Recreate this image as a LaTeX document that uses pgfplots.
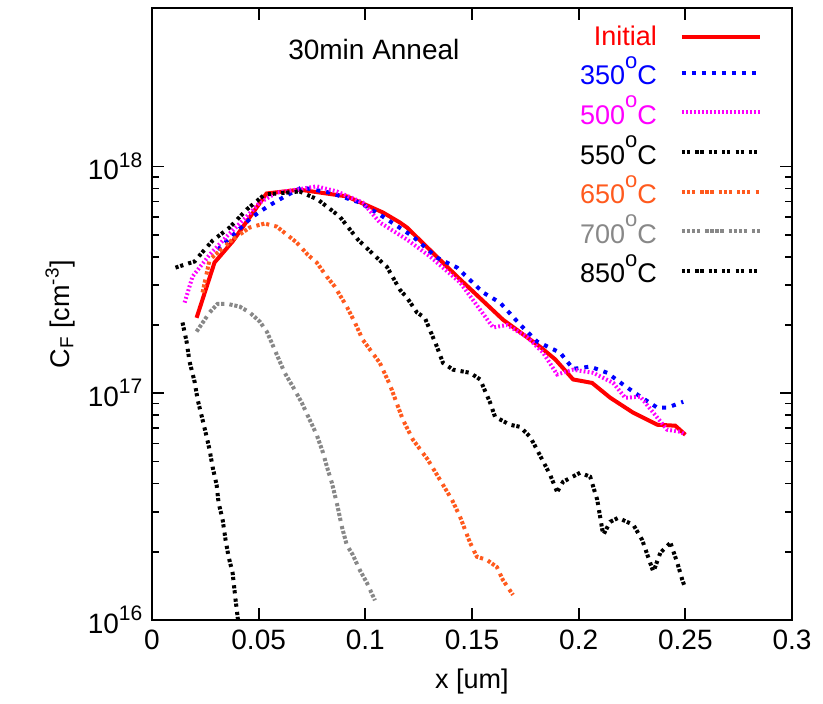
\documentclass[border=0pt]{standalone}
\usepackage{fontspec}
\setmainfont{Liberation Sans}
\usepackage{pgfplots}
\pgfplotsset{compat=1.18}
\definecolor{cOrange}{RGB}{255,90,30}
\definecolor{cGray}{RGB}{136,136,136}
\definecolor{cMag}{RGB}{255,0,255}
\definecolor{cBlue}{RGB}{0,0,255}
\definecolor{cRed}{RGB}{255,0,0}
\newcommand{\dg}{\raisebox{8.3pt}{\fontsize{11}{11}\selectfont o}}
\newcommand{\ex}[1]{\raisebox{6.3pt}{\fontsize{10.5}{10.5}\selectfont #1}}
\begin{document}
\fontsize{14}{16}\selectfont
\begin{tikzpicture}
\begin{axis}[
  scale only axis,
  width=320pt, height=306pt,
  ymode=log,
  xmin=0, xmax=0.3, ymin=1e16, ymax=5e18,
  xtick={0,0.05,0.1,0.15,0.2,0.25,0.3},
  xticklabels={0,0.05,0.1,0.15,0.2,0.25,0.3},
  ytick={1e16,1e17,1e18},
  yticklabels={10\ex{16},10\ex{17},10\ex{18}},
  tick align=inside,
  major tick length=6pt, minor tick length=3.5pt,
  axis line style={line width=1pt},
  every tick/.style={line width=0.9pt, black},
  tick label style={font=\fontsize{14}{16}\selectfont},
  xlabel={x [um]},
  ylabel={C\textsubscript{F} [cm\textsuperscript{-3}]},
  ylabel shift=-3pt,
  label style={font=\fontsize{13.5}{16}\selectfont},
  legend plot pos=right,
  legend cell align=right,
  legend style={draw=none, fill=none, at={(0.963,0.985)}, anchor=north east,
    font=\fontsize{13.5}{14}\selectfont, row sep=-0.5pt},
  legend image code/.code={\path (0pt,0pt); \draw[#1] (9.5pt,0pt) -- (48.5pt,0pt);},
]
\addplot[cRed, line width=2pt] coordinates {
(0.0209,2.15e17) (0.0293,3.77e17) (0.0378,4.67e17) (0.0537,7.6e17) (0.0692,7.9e17)
(0.0913,7.38e17) (0.1082,6.27e17) (0.1162,5.66e17) (0.1195,5.38e17) (0.143,3.27e17)
(0.1645,2.11e17) (0.182,1.6e17) (0.189,1.41e17) (0.1974,1.15e17) (0.2063,1.11e17)
(0.2148,9.55e16) (0.2256,8.2e16) (0.2369,7.26e16) (0.2453,7.19e16) (0.25,6.56e16)};
\addlegendentry{\textcolor{cRed}{Initial}}
\addplot[cBlue, line width=2pt, dash pattern=on 2pt off 3pt] coordinates {
(0.0308,4.3e17) (0.0397,5.16e17) (0.0467,5.96e17) (0.0542,6.66e17) (0.0622,7.37e17)
(0.0702,8.08e17) (0.0833,7.67e17) (0.0974,6.93e17) (0.1082,6.01e17) (0.1223,4.91e17)
(0.1336,3.96e17) (0.143,3.58e17) (0.1552,2.78e17) (0.1631,2.51e17) (0.1725,2.01e17)
(0.1805,1.69e17) (0.1913,1.51e17) (0.1974,1.28e17) (0.2054,1.31e17) (0.2134,1.23e17)
(0.2209,1.09e17) (0.2289,9.66e16) (0.2369,8.63e16) (0.2415,8.63e16) (0.249,9.17e16)};
\addlegendentry{\textcolor{cBlue}{350\dg C}}
\addplot[cMag, line width=2pt, dash pattern=on 0.9pt off 1.1pt] coordinates {
(0.0153,2.51e17) (0.019,3.27e17) (0.027,4.08e17) (0.035,4.91e17) (0.0444,6.01e17)
(0.0505,6.93e17) (0.0585,7.67e17) (0.0678,7.9e17) (0.0772,8.17e17) (0.0866,7.76e17)
(0.0988,6.93e17) (0.1068,5.66e17) (0.1195,4.76e17) (0.1303,4.01e17) (0.1444,3.08e17)
(0.1599,1.95e17) (0.1664,2.0e17) (0.1758,1.77e17) (0.1833,1.51e17) (0.1899,1.21e17)
(0.1974,1.27e17) (0.2068,1.23e17) (0.2162,1.11e17) (0.2218,9.55e16) (0.2289,9.66e16)
(0.235,8.2e16) (0.2415,6.9e16) (0.2477,6.76e16) (0.25,6.56e16)};
\addlegendentry{\textcolor{cMag}{500\dg C}}
\addplot[black, line width=2pt, dash pattern=on 1.6pt off 0.9pt on 1.6pt off 2.6pt] coordinates {
(0.011,3.58e17) (0.0153,3.69e17) (0.02,3.81e17) (0.0223,4.05e17) (0.0284,4.71e17)
(0.0364,5.38e17) (0.0444,6.46e17) (0.0528,7.52e17) (0.0692,7.76e17) (0.0777,7.15e17)
(0.088,6.01e17) (0.0965,4.76e17) (0.1054,3.96e17) (0.1101,3.61e17) (0.1162,2.86e17)
(0.1195,2.64e17) (0.1242,2.27e17) (0.1279,2.15e17) (0.1336,1.6e17) (0.1364,1.36e17)
(0.1411,1.27e17) (0.1491,1.23e17) (0.1538,1.15e17) (0.1585,9.08e16) (0.1608,7.87e16)
(0.1678,7.26e16) (0.1725,7.11e16) (0.1772,6.43e16) (0.1805,5.63e16) (0.1866,4.37e16)
(0.1899,3.67e16) (0.1927,4.07e16) (0.2007,4.46e16) (0.2054,4.28e16) (0.2087,3.39e16)
(0.2115,2.37e16) (0.2148,2.71e16) (0.2185,2.82e16) (0.2256,2.63e16) (0.2298,2.25e16)
(0.235,1.63e16) (0.2383,1.98e16) (0.243,2.19e16) (0.2462,1.79e16) (0.2486,1.5e16)
(0.25,1.38e16)};
\addlegendentry{550\dg C}
\addplot[cOrange, line width=2pt, dash pattern=on 1.6pt off 0.9pt on 1.6pt off 0.9pt on 1.6pt off 2.6pt] coordinates {
(0.0237,2.78e17) (0.027,3.88e17) (0.0378,4.76e17) (0.0458,5.38e17) (0.0528,5.6e17)
(0.0585,5.43e17) (0.0678,4.62e17) (0.073,4.08e17) (0.0772,3.77e17) (0.0819,3.27e17)
(0.0857,2.95e17) (0.0913,2.41e17) (0.0951,2.05e17) (0.0988,1.72e17) (0.1068,1.36e17)
(0.1115,1.09e17) (0.1176,7.64e16) (0.1223,6.24e16) (0.1293,5.09e16) (0.135,4.15e16)
(0.1406,3.39e16) (0.1444,2.85e16) (0.1491,2.19e16) (0.1523,1.9e16) (0.157,1.84e16)
(0.1617,1.71e16) (0.1645,1.5e16) (0.1692,1.29e16)};
\addlegendentry{\textcolor{cOrange}{650\dg C}}
\addplot[cGray, line width=2pt, dash pattern=on 1.6pt off 0.9pt on 1.6pt off 0.9pt on 1.6pt off 0.9pt on 1.6pt off 2.6pt] coordinates {
(0.0209,1.87e17) (0.027,2.27e17) (0.0308,2.48e17) (0.035,2.48e17) (0.0411,2.41e17)
(0.0458,2.27e17) (0.0505,2.07e17) (0.0538,1.87e17) (0.0561,1.67e17) (0.0589,1.45e17)
(0.0622,1.23e17) (0.066,1.07e17) (0.0702,9.08e16) (0.0739,7.64e16) (0.0772,6.56e16)
(0.08,5.52e16) (0.0824,4.6e16) (0.0843,4.03e16) (0.0866,3.29e16) (0.089,2.58e16)
(0.0913,2.14e16) (0.0941,1.94e16) (0.0974,1.66e16) (0.1007,1.46e16) (0.1045,1.22e16)};
\addlegendentry{\textcolor{cGray}{700\dg C}}
\addplot[black, line width=2pt, dash pattern=on 1.6pt off 0.9pt on 1.6pt off 2.6pt] coordinates {
(0.0143,2.05e17) (0.0162,1.69e17) (0.0176,1.38e17) (0.02,1.12e17) (0.0214,9.36e16)
(0.0237,7.64e16) (0.0256,6.43e16) (0.027,5.63e16) (0.0284,4.73e16) (0.0303,3.94e16)
(0.0312,3.29e16) (0.0331,2.77e16) (0.0345,2.25e16) (0.0359,1.9e16) (0.0378,1.61e16)
(0.0392,1.22e16) (0.0406,9.5e15)};
\addlegendentry{850\dg C}
\node[anchor=base, font=\fontsize{14}{16}\selectfont] at (axis cs:0.104,2.97e18) {30min Anneal};
\coordinate (ll) at (rel axis cs:0,0);
\coordinate (ur) at (rel axis cs:1,1);
\end{axis}
\path ([shift={(-76pt,-41pt)}]ll) -- ([shift={(15.5pt,4pt)}]ur);
\end{tikzpicture}
\end{document}
